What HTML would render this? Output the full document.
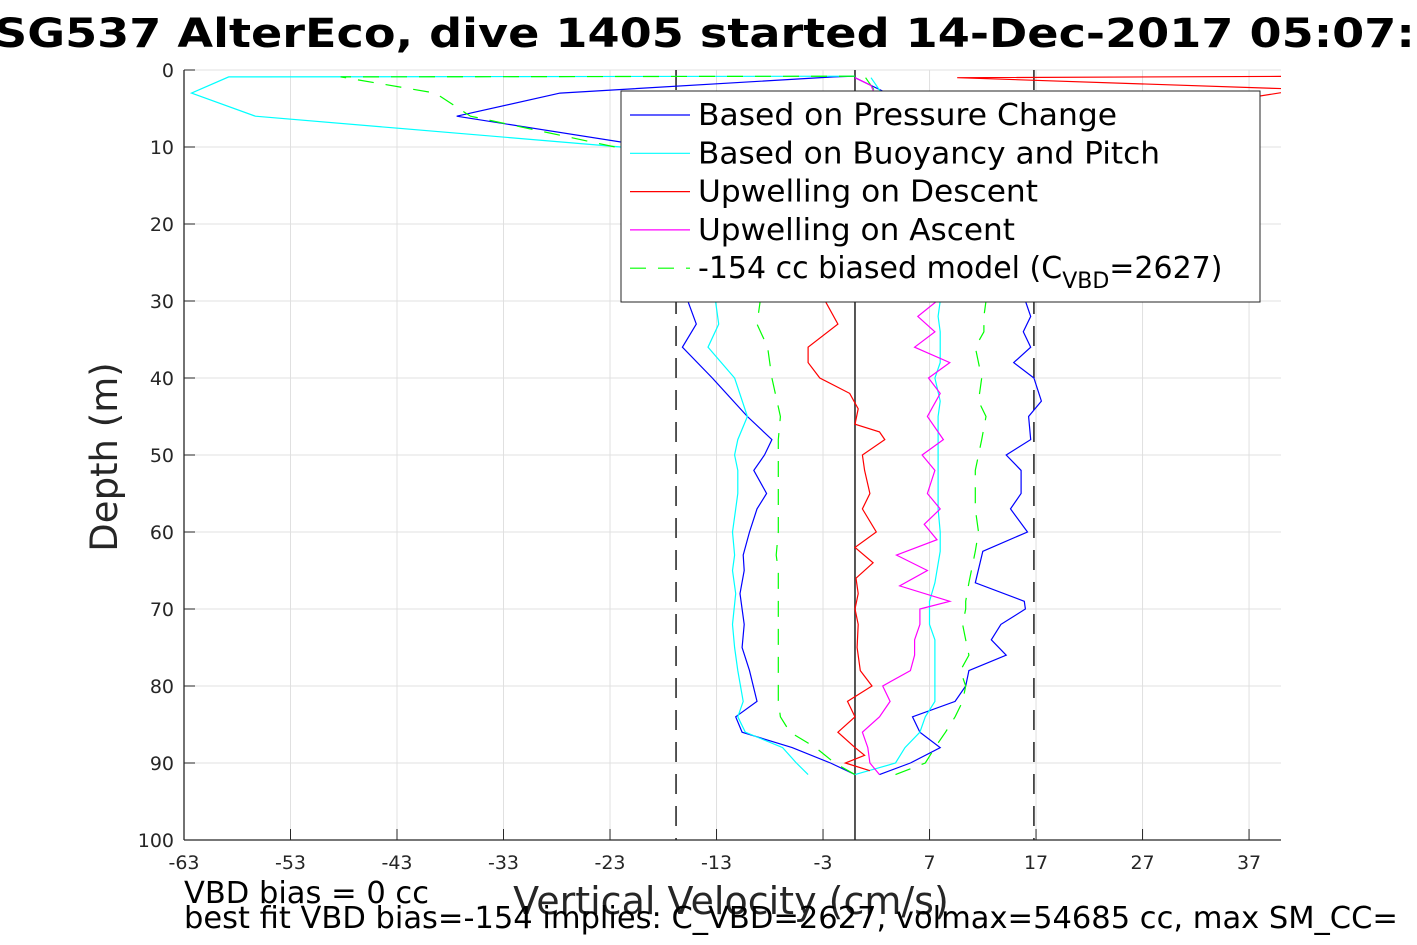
<!DOCTYPE html>
<html><head><meta charset="utf-8"><style>
html,body{margin:0;padding:0;background:#fff;width:1417px;height:945px;overflow:hidden}
svg{font-family:"DejaVu Sans","Liberation Sans",sans-serif}
</style></head><body>
<svg id="chart" width="1417" height="945" xmlns="http://www.w3.org/2000/svg">
<text x="-6" y="47" font-size="40" font-weight="bold" fill="#000" textLength="1485" lengthAdjust="spacingAndGlyphs">SG537 AlterEco, dive 1405 started 14-Dec-2017 05:07:33</text>
<g id="grid"></g>
<g id="series"></g>
<g id="axes"></g>
<g id="legend"></g>
<text transform="translate(117,457) rotate(-90)" text-anchor="middle" font-size="37" fill="#262626">Depth (m)</text>
<text x="731" y="914" text-anchor="middle" font-size="38" fill="#262626">Vertical Velocity (cm/s)</text>
<text x="184" y="903" font-size="30.5" fill="#000">VBD bias = 0 cc</text>
<text x="184" y="928" font-size="30.5" fill="#000">best fit VBD bias=-154 implies: C_VBD=2627, volmax=54685 cc, max SM_CC=</text>
</svg>
<script>
const xTicks=[-63,-53,-43,-33,-23,-13,-3,7,17,27,37];
const yTicks=[0,10,20,30,40,50,60,70,80,90,100];
const xMin=-63,xMax=40,yMin=0,yMax=100;
const L=184,R=1281,T=70,B=840;
function sx(v){return L+(v-xMin)/(xMax-xMin)*(R-L);}
function sy(d){return T+(d-yMin)/(yMax-yMin)*(B-T);}
const descDepth=[0.8,0.9,3,6,10,30,33,36,40,45,48,50,52,55,57,60,63,65,68,72,75,78,82,84,86,88,90,91.5];
const pressDesc=[0,-2,-27.7,-37.4,-19,-15.7,-14.9,-16.2,-13.4,-10.1,-7.8,-8.5,-9.5,-8.3,-9.2,-9.9,-10.5,-10.4,-10.8,-10.4,-10.6,-9.9,-9.2,-11.2,-10.6,-5.9,-2.3,0];
const buoyDesc=[0,-58.8,-62.3,-56.3,-22,-13.1,-12.8,-13.8,-11.3,-10.1,-11,-11.3,-11,-11,-11.2,-11.5,-11.3,-11.5,-11.2,-11.5,-11.3,-11,-10.5,-11,-10.3,-6.8,-5.5,-4.4];
const modelDesc=[0,-48.3,-39.4,-36.1,-22.5,-8.9,-9.2,-8.2,-7.8,-7,-7.2,-7.2,-7.2,-7.2,-7.2,-7.2,-7.4,-7.2,-7.2,-7.2,-7.2,-7.2,-7.2,-7,-6.1,-3.7,-1.9,0];
const ascDepth=[91.5,90,88,86,84,82,80,78,76,74,72,70,69,66.6,62.5,60,57,55,52,50,48,45,43,40,38,36,34,32,30,10,3,1];
const pressAsc=[2.3,5.2,8,6.1,5.4,9.4,10.4,10.7,14.2,12.8,13.7,16,15.9,11.3,12,16.2,14.6,15.6,15.6,14.2,16.5,16.3,17.5,16.8,14.9,16.5,15.8,16.5,16,10,3,0];
const buoyAsc=[0,3.8,4.7,6.1,6.6,7.5,7.5,7.5,7.5,7.5,7,7,7,7.5,8,8,7.8,7.8,7.8,7.8,7.8,7.8,8,7.5,8,8,8,7.8,8,5,2.5,1.5];
const modelAsc=[3.8,6.6,7.5,8.5,9.4,10.1,10.4,9.9,10.7,10.4,10.1,10.4,10.4,10.7,11.3,11.6,11.3,11.3,11.3,11.6,11.9,12.3,11.6,11.9,11.6,11.3,12.1,12.1,12.3,4,2,1];
const upDepth=[0.8,1,2.5,10,30,33,36,38,40,42,44,46,47,48,50,52,55,57,60,62,64,66,68,70,72,75,78,80,82,84,86,88,89,90,91];
const upDesc=[45,9.6,42,8,-2.8,-1.6,-4.4,-4.4,-3.3,-0.5,0.3,0,2.3,2.8,0.7,0.9,1.4,0.7,2,0,1.7,0.1,0.3,0,0.3,0.2,0.5,1.6,-0.7,0,-1.6,0,0.9,-0.9,1.4];
const uaDepth=[91.5,90,88,86,84,82,80,78,76,74,72,70,69,67,65,63,61,59,57,55,52,50,48,45,42,40,38,36,34,32,30,10,2,1];
const upAsc=[2.3,1.4,1.2,0.7,2.3,3.3,2.6,5.2,5.6,5.6,6.1,6.1,8.9,4.2,6.8,3.9,7.7,6.5,8,6.8,7.5,6.3,8.3,6.8,8,6.9,8.9,5.6,7.5,5.9,7.7,4,1.5,0];
const NS='http://www.w3.org/2000/svg';
function mk(tag,attrs,parent){const e=document.createElementNS(NS,tag);for(const k in attrs)e.setAttribute(k,attrs[k]);parent.appendChild(e);return e;}
const grid=document.getElementById('grid'),axes=document.getElementById('axes'),ser=document.getElementById('series'),leg=document.getElementById('legend');
xTicks.forEach(v=>{
 const g=mk('line',{x1:sx(v),x2:sx(v),y1:T,y2:B,stroke:'#e0e0e0','stroke-width':1},grid);
 
 
 const t=mk('line',{x1:sx(v),x2:sx(v),y1:B,y2:B-11,stroke:'#262626','stroke-width':1},axes);
 
 
 const l=mk('text',{x:sx(v),y:B+29,'text-anchor':'middle','font-size':19,fill:'#262626'},axes);
 l.textContent=v;
 
 
});
yTicks.forEach(v=>{
 const g=mk('line',{x1:L,x2:R,y1:sy(v),y2:sy(v),stroke:'#e0e0e0','stroke-width':1},grid);
 
 
 const t=mk('line',{x1:L,x2:L+11,y1:sy(v),y2:sy(v),stroke:'#262626','stroke-width':1},axes);
 
 
 const l=mk('text',{x:L-10,y:sy(v)+7,'text-anchor':'end','font-size':19,fill:'#262626'},axes);
 l.textContent=v;
 
 
});
const a1=mk('line',{x1:L,x2:L,y1:T,y2:B,stroke:'#262626','stroke-width':1.3},axes);


const a2=mk('line',{x1:L,x2:R,y1:B,y2:B,stroke:'#262626','stroke-width':1.3},axes);


const refs=[[-16.8,'20 12'],[0,null],[16.8,'20 12']];
refs.forEach(r=>{
 const a={x1:sx(r[0]),x2:sx(r[0]),y1:T,y2:B,stroke:'#444','stroke-width':1.8};
 if(r[1])a['stroke-dasharray']=r[1];
 const e=mk('line',a,ser);
 
 
});
const defs=mk('defs',{},ser);
const cp=mk('clipPath',{id:'clip'},defs);
mk('rect',{x:L,y:T,width:R-L,height:B-T},cp);
function path(dep,vals,color,name,dash){
 const d=dep.map((z,i)=>(i?'L':'M')+sx(vals[i]).toFixed(1)+' '+sy(z).toFixed(1)).join(' ');
 const a={d:d,fill:'none',stroke:color,'stroke-width':1.2,'clip-path':'url(#clip)'};
 if(dash)a['stroke-dasharray']=dash;
 const p=mk('path',a,ser);
 
 
}
path(descDepth,pressDesc,'#0000ff','pressure-descent-line');
path(ascDepth,pressAsc,'#0000ff','pressure-ascent-line');
path(descDepth,buoyDesc,'#00ffff','buoyancy-descent-line');
path(ascDepth,buoyAsc,'#00ffff','buoyancy-ascent-line');
path(descDepth,modelDesc,'#00ff00','model-descent-line','16 12');
path(ascDepth,modelAsc,'#00ff00','model-ascent-line','16 12');
path(upDepth,upDesc,'#ff0000','upwelling-descent-line');
path(uaDepth,upAsc,'#ff00ff','upwelling-ascent-line');
const box=mk('rect',{x:621,y:91,width:639,height:211,fill:'#fff',stroke:'#262626','stroke-width':1},leg);


const legNames=['Based on Pressure Change','Based on Buoyancy and Pitch','Upwelling on Descent','Upwelling on Ascent','-154 cc biased model (C'];
const legWidths=[419,462,340,317,0];
const legColors=['#0000ff','#00ffff','#ff0000','#ff00ff','#00ff00'];
legNames.forEach((n,i)=>{
 const y=115+i*38.3;
 const a={x1:630,x2:690,y1:y,y2:y,stroke:legColors[i],'stroke-width':1.2};
 if(i==4)a['stroke-dasharray']='16 12';
 const ln=mk('line',a,leg);
 
 
 const ta={x:698,y:y+10,'font-size':30,fill:'#000'};
 if(legWidths[i]){ta.textLength=legWidths[i];ta.lengthAdjust='spacingAndGlyphs';}
 const t=mk('text',ta,leg);
 
 
 t.textContent=n;
 if(i==4){
  const s=mk('tspan',{dy:10,'font-size':22},t);s.textContent='VBD';
  const s2=mk('tspan',{dy:-10},t);s2.textContent='=2627)';
 }
});
</script>
</body></html>
